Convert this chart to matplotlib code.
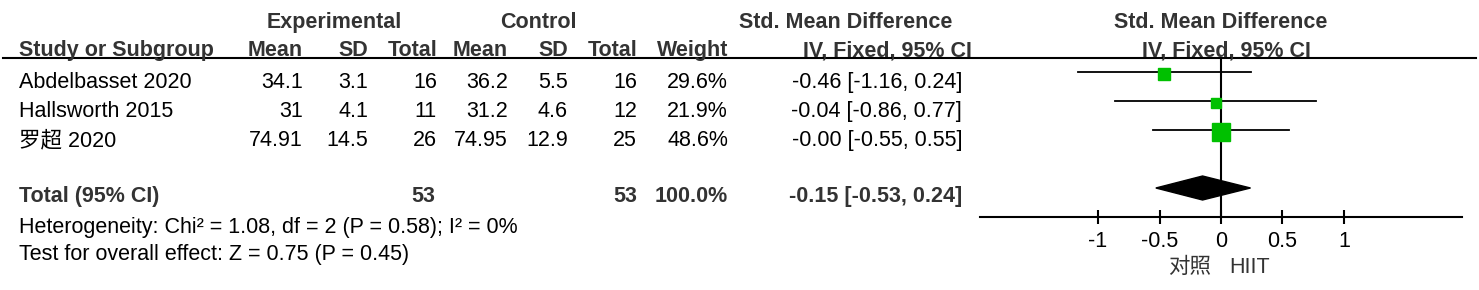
import matplotlib
matplotlib.use('Agg')
import matplotlib.pyplot as plt
from matplotlib.patches import Polygon

plt.rcParams['font.family'] = ['Liberation Sans', 'Noto Sans CJK SC']
plt.rcParams['axes.unicode_minus'] = False

# data
studies = ['Abdelbasset 2020', 'Hallsworth 2015', '罗超 2020']
exp_mean = [34.1, 31, 74.91]
exp_sd = [3.1, 4.1, 14.5]
exp_n = [16, 11, 26]
ctl_mean = [36.2, 31.2, 74.95]
ctl_sd = [5.5, 4.6, 12.9]
ctl_n = [16, 12, 25]
weight = [29.6, 21.9, 48.6]
smd = [-0.46, -0.04, -0.00]
ci_lo = [-1.16, -0.86, -0.55]
ci_hi = [0.24, 0.77, 0.55]
total_weight = 100.0
total_smd, total_lo, total_hi = -0.15, -0.53, 0.24
heterogeneity = 'Heterogeneity: Chi² = 1.08, df = 2 (P = 0.58); I² = 0%'
overall = 'Test for overall effect: Z = 0.75 (P = 0.45)'
ticks = [-1, -0.5, 0, 0.5, 1]
favours = ['对照', 'HIIT']

W, H = 1479, 290
fig = plt.figure(figsize=(W / 100, H / 100), dpi=100)
ax = fig.add_axes([0, 0, 1, 1])
ax.set_xlim(0, W)
ax.set_ylim(H, 0)
ax.axis('off')

fs = 15.5
hc = '#333333'

# header
ax.text(334, 28, 'Experimental', ha='center', va='baseline', fontsize=fs, fontweight='bold', color=hc)
ax.text(538, 28, 'Control', ha='center', va='baseline', fontsize=fs, fontweight='bold', color=hc)
ax.text(846, 28, 'Std. Mean Difference', ha='center', va='baseline', fontsize=fs, fontweight='bold', color=hc)
ax.text(1221, 28, 'Std. Mean Difference', ha='center', va='baseline', fontsize=fs, fontweight='bold', color=hc)
ax.text(19, 56, 'Study or Subgroup', ha='left', va='baseline', fontsize=fs, fontweight='bold', color=hc)
cols = [(303, 'Mean'), (368, 'SD'), (437, 'Total'), (508, 'Mean'), (568, 'SD'), (637, 'Total'), (728, 'Weight'), (972, 'IV, Fixed, 95% CI')]
for x, lab in cols:
    ax.text(x, 56, lab, ha='right', va='baseline', fontsize=fs, fontweight='bold', color=hc)
ax.text(1226, 56, 'IV, Fixed, 95% CI', ha='center', va='baseline', fontsize=fs, fontweight='bold', color=hc)
ax.plot([3, 1476], [58, 58], color='black', lw=1.5)

# study rows
for i, name in enumerate(studies):
    yb = 88 + i * 29
    ax.text(19, yb, name, ha='left', va='baseline', fontsize=fs)
    vals = [format(exp_mean[i], 'g'), format(exp_sd[i], 'g'), str(exp_n[i]),
            format(ctl_mean[i], 'g'), format(ctl_sd[i], 'g'), str(ctl_n[i]),
            f'{weight[i]:.1f}%', f'{smd[i]:.2f} [{ci_lo[i]:.2f}, {ci_hi[i]:.2f}]']
    xs = [303, 368, 437, 508, 568, 637, 728, 962]
    for x, v in zip(xs, vals):
        ax.text(x, yb, v, ha='right', va='baseline', fontsize=fs)

# total row
ax.text(19, 202, 'Total (95% CI)', ha='left', va='baseline', fontsize=fs, fontweight='bold', color=hc)
ax.text(435, 202, str(sum(exp_n)), ha='right', va='baseline', fontsize=fs, fontweight='bold', color=hc)
ax.text(637, 202, str(sum(ctl_n)), ha='right', va='baseline', fontsize=fs, fontweight='bold', color=hc)
ax.text(728, 202, f'{total_weight:.1f}%', ha='right', va='baseline', fontsize=fs, fontweight='bold', color=hc)
ax.text(962, 202, f'{total_smd:.2f} [{total_lo:.2f}, {total_hi:.2f}]', ha='right', va='baseline',
        fontsize=fs, fontweight='bold', color=hc)
ax.text(19, 233, heterogeneity, ha='left', va='baseline', fontsize=fs)
ax.text(19, 260, overall, ha='left', va='baseline', fontsize=fs)

# forest plot axes (x in SMD units, y in pixels)
x0, x1, ytop, ybot = 980, 1462, 58, 217
fax = fig.add_axes([x0 / W, 1 - ybot / H, (x1 - x0) / W, (ybot - ytop) / H])
fax.set_xlim(-1.96, 1.96)
fax.set_ylim(ybot, ytop)
fax.patch.set_alpha(0)
for s in ['top', 'left', 'right']:
    fax.spines[s].set_visible(False)
fax.spines['bottom'].set_linewidth(1.5)
fax.set_yticks([])
fax.set_xticks(ticks)
fax.set_xticklabels([format(t, 'g') for t in ticks], fontsize=fs)
fax.tick_params(axis='x', direction='inout', length=10, width=1.5, pad=5)
fax.axvline(0, color='black', lw=1.5)

for i in range(len(studies)):
    y = 72 + i * 29
    fax.plot([ci_lo[i], ci_hi[i]], [y, y], color='black', lw=1.3, zorder=2)
    side = 4 + 0.27 * weight[i]
    fax.plot(smd[i], y + 1.5, marker='s', ms=side * 0.72, color='#00c000', mec='#00c000', zorder=3, lw=0)

dia = Polygon([[total_lo, 188], [total_smd, 176], [total_hi, 188], [total_smd, 200]],
              closed=True, color='black', zorder=3)
fax.add_patch(dia)

ax.text(1190, 273, favours[0], ha='center', va='baseline', fontsize=fs, color='#333333')
ax.text(1250, 273, favours[1], ha='center', va='baseline', fontsize=fs, color='#333333')

fig.savefig('out.png', dpi=100)
